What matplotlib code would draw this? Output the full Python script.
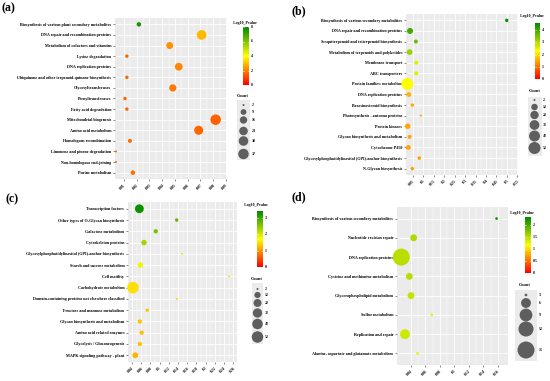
import numpy as np
import matplotlib
matplotlib.use("Agg")
import matplotlib.pyplot as plt
from matplotlib.colors import LinearSegmentedColormap

W, H = 550, 381
DPI = 100
FONT = "Liberation Serif"

# ---------------- data ----------------
a_terms = ["Biosynthesis of various plant secondary metabolites", "DNA repair and recombination proteins",
           "Metabolism of cofactors and vitamins", "Lysine degradation", "DNA replication proteins",
           "Ubiquinone and other terpenoid-quinone biosynthesis", "Glycosyltransferases", "Prenyltransferases",
           "Fatty acid degradation", "Mitochondrial biogenesis", "Amino acid metabolism",
           "Homologous recombination", "Limonene and pinene degradation", "Non-homologous end-joining",
           "Purine metabolism"]
a_rich = [0.0217, 0.0709, 0.0459, 0.0123, 0.053, 0.0123, 0.0483, 0.0108, 0.0123, 0.0819, 0.0686,
          0.0147, 0.0037, 0.0037, 0.017]
a_logp = [7.6, 2.9, 2.3, 1.6, 2.1, 1.6, 1.9, 1.5, 1.6, 1.5, 1.6, 1.7, 1.5, 1.5, 1.7]
a_count = [5, 30, 14, 3, 18, 3, 15, 3, 3, 37, 26, 4, 2, 2, 5]
a_xticks = [0.01, 0.02, 0.03, 0.04, 0.05, 0.06, 0.07, 0.08, 0.09]
a_xlabels = ["0.01", "0.02", "0.03", "0.04", "0.05", "0.06", "0.07", "0.08", "0.09"]
a_cbar_ticks = [0, 2, 4, 6, 8]
a_count_breaks = [2, 9, 16, 23, 30, 37]

b_terms = ["Biosynthesis of various secondary metabolites", "DNA repair and recombination proteins",
           "Sesquiterpenoid and triterpenoid biosynthesis", "Metabolism of terpenoids and polyketides",
           "Membrane transport", "ABC transporters", "Protein families: metabolism", "DNA replication proteins",
           "Brassinosteroid biosynthesis", "Photosynthesis - antenna proteins", "Protein kinases",
           "Glycan biosynthesis and metabolism", "Cytochrome P450",
           "Glycosylphosphatidylinositol (GPI)-anchor biosynthesis", "N-Glycan biosynthesis"]
b_rich = [0.499, 0.036, 0.064, 0.034, 0.066, 0.066, 0.023, 0.030, 0.047, 0.088, 0.025, 0.034, 0.028,
          0.080, 0.047]
b_logp = [4.5, 4.0, 3.6, 3.2, 2.6, 2.6, 2.3, 1.6, 1.5, 1.4, 1.5, 1.5, 1.5, 1.4, 1.4]
b_count = [3, 10, 4, 9, 4, 4, 52, 6, 3, 2, 8, 4, 6, 3, 3]
b_xticks = [0.05, 0.1, 0.15, 0.2, 0.25, 0.3, 0.35, 0.4, 0.45, 0.5, 0.55]
b_xlabels = ["0.05", "0.1", "0.15", "0.2", "0.25", "0.3", "0.35", "0.4", "0.45", "0.5", "0.55"]
b_cbar_ticks = [0, 1, 2, 3, 4]
b_count_breaks = [2, 12, 22, 32, 42, 52]

c_terms = ["Transcription factors", "Other types of O-Glycan biosynthesis", "Galactose metabolism",
           "Cytoskeleton proteins", "Glycosylphosphatidylinositol (GPI)-anchor biosynthesis",
           "Starch and sucrose metabolism", "Cell motility", "Carbohydrate metabolism",
           "Domain-containing proteins not elsewhere classified", "Fructose and mannose metabolism",
           "Glycan biosynthesis and metabolism", "Amino acid related enzymes", "Glycolysis / Gluconeogenesis",
           "MAPK signaling pathway - plant"]
c_rich = [0.056, 0.137, 0.0915, 0.066, 0.149, 0.058, 0.251, 0.042, 0.137, 0.073, 0.057, 0.061, 0.057, 0.047]
c_logp = [3.3, 2.8, 2.6, 2.3, 1.9, 1.8, 1.5, 1.5, 1.45, 1.3, 1.3, 1.3, 1.3, 1.2]
c_count = [28, 3, 5, 9, 2, 9, 2, 52, 2, 3, 5, 5, 5, 10]
c_xticks = [0.04, 0.06, 0.08, 0.1, 0.12, 0.14, 0.16, 0.18, 0.2, 0.22, 0.24, 0.26]
c_xlabels = ["0.04", "0.06", "0.08", "0.1", "0.12", "0.14", "0.16", "0.18", "0.2", "0.22", "0.24", "0.26"]
c_cbar_ticks = [0, 1, 2, 3]
c_count_breaks = [2, 12, 22, 32, 42, 52]

d_terms = ["Biosynthesis of various secondary metabolites", "Nucleotide excision repair",
           "DNA replication proteins", "Cysteine and methionine metabolism", "Glycerophospholipid metabolism",
           "Sulfur metabolism", "Replication and repair", "Alanine, aspartate and glutamate metabolism"]
d_rich = [0.158, 0.0437, 0.0266, 0.0377, 0.040, 0.0686, 0.0317, 0.049]
d_logp = [2.3, 1.55, 1.5, 1.5, 1.45, 1.3, 1.4, 1.3]
d_count = [3, 4, 15, 4, 4, 3, 6, 3]
d_xticks = [0.04, 0.06, 0.08, 0.1, 0.12, 0.14, 0.16]
d_xlabels = ["0.04", "0.06", "0.08", "0.1", "0.12", "0.14", "0.16"]
d_cbar_ticks = [0, 0.5, 1, 1.5, 2]
d_cbar_labels = ["0", "0.5", "1", "1.5", "2"]
d_count_breaks = [3, 6, 9, 12, 15]

# ---------------- styling / layout ----------------
cmap = LinearSegmentedColormap.from_list("ryg", ["#FF0000", "#FFFF00", "#008B00"])

fig = plt.figure(figsize=(W / DPI, H / DPI), dpi=DPI)
fig.patch.set_facecolor("white")


def px_rect(x0, x1, y0, y1):
    return [x0 / W, 1 - y1 / H, (x1 - x0) / W, (y1 - y0) / H]


def diam_fn(cmin, cmax, d0, d1):
    def f(c):
        c = np.asarray(c, dtype=float)
        return d0 + (d1 - d0) * np.sqrt(np.clip((c - cmin) / (cmax - cmin), 0, None))
    return f


def s_from_diam(d):
    return (np.asarray(d) * 72.0 / DPI) ** 2


ov = fig.add_axes([0, 0, 1, 1], zorder=5)
ov.set_xlim(0, W)
ov.set_ylim(H, 0)
ov.axis("off")
ov.patch.set_alpha(0)


def panel(rect, terms, rich, logp, count, xlim, xticks, xlabels, vmax, dfun,
          cbar_box, cbar_ticks, cbar_labels, cbar_title_xy,
          count_title_xy, count_box, count_x, count_ys, count_breaks, count_lab_x,
          letter, letter_xy):
    ax = fig.add_axes(px_rect(*rect))
    ax.set_facecolor("#EBEBEB")
    n = len(terms)
    ypos = np.arange(n)[::-1]
    cols = cmap(np.asarray(logp) / vmax)
    ax.scatter(rich, ypos, s=s_from_diam(dfun(count)), c=cols, edgecolors="none", zorder=3,
               clip_on=False)
    ax.set_xlim(*xlim)
    ax.set_ylim(-0.6, n - 0.4)
    ax.set_yticks(ypos)
    ax.set_yticklabels(terms, fontfamily=FONT, fontweight="bold", fontsize=3.0, color="black")
    ax.set_xticks(xticks)
    ax.set_xticklabels(xlabels, fontfamily=FONT, fontweight="bold", fontsize=2.8, color="black",
                       rotation=45, ha="right", rotation_mode="anchor")
    minor = [(xticks[i] + xticks[i + 1]) / 2 for i in range(len(xticks) - 1)]
    ax.set_xticks(minor, minor=True)
    ax.grid(True, which="major", color="white", linewidth=0.6, zorder=0)
    ax.grid(True, which="minor", axis="x", color="white", linewidth=0.3, zorder=0)
    ax.set_axisbelow(True)
    for sp in ax.spines.values():
        sp.set_visible(False)
    ax.tick_params(which="major", length=1.5, width=0.4, color="#333333", pad=1.2)
    ax.tick_params(which="minor", length=0)

    # colorbar
    x0, x1, y0, y1 = cbar_box
    grad = np.linspace(0, 1, 256).reshape(-1, 1)
    ov.imshow(grad, cmap=cmap, aspect="auto", origin="lower", extent=(x0, x1, y1, y0), zorder=6)
    for t, lab in zip(cbar_ticks, cbar_labels):
        yy = y1 - (y1 - y0) * t / vmax
        ov.plot([x0, x0 + 1.2], [yy, yy], color="white", lw=0.4, zorder=7)
        ov.plot([x1 - 1.2, x1], [yy, yy], color="white", lw=0.4, zorder=7)
        ov.text(x1 + 1.5, yy, lab, fontfamily=FONT, fontweight="bold", fontsize=2.8,
                ha="left", va="center", zorder=7)
    ov.text(cbar_title_xy[0], cbar_title_xy[1], "-Log10_Pvalue", fontfamily=FONT, fontweight="bold",
            fontsize=2.8, ha="center", va="center", zorder=7)

    # count legend
    bx0, bx1, by0, by1 = count_box
    ov.add_patch(plt.Rectangle((bx0, by0), bx1 - bx0, by1 - by0, facecolor="#EBEBEB",
                               edgecolor="none", zorder=6))
    ov.scatter([count_x] * len(count_ys), count_ys, s=s_from_diam(dfun(count_breaks)),
               color="#5E5E5E", edgecolors="none", zorder=7)
    for yy, b in zip(count_ys, count_breaks):
        ov.text(count_lab_x, yy, str(b), fontfamily=FONT, fontweight="bold", fontsize=2.8,
                ha="left", va="center", zorder=7)
    ov.text(count_title_xy[0], count_title_xy[1], "Count", fontfamily=FONT, fontweight="bold",
            fontsize=3.2, ha="center", va="center", zorder=7)

    ov.text(letter_xy[0], letter_xy[1], letter, fontfamily=FONT, fontweight="bold", fontsize=8.5,
            ha="left", va="top", zorder=7)
    return ax


panel((115, 227, 18, 179), a_terms, a_rich, a_logp, a_count, (0.003, 0.0908), a_xticks, a_xlabels, 8.0,
      diam_fn(2, 37, 2.0, 10.5),
      (243, 249, 27, 85), a_cbar_ticks, [str(t) for t in a_cbar_ticks], (245, 23),
      (243, 96), (237, 250, 100, 160), 243.5, [105, 112, 120, 131, 141, 154], a_count_breaks, 251.5,
      "(a)", (2, 2))

panel((406, 518, 14, 175), b_terms, b_rich, b_logp, b_count, (0.0167, 0.553), b_xticks, b_xlabels, 4.6,
      diam_fn(2, 52, 2.0, 12.0),
      (535, 540, 23, 79), b_cbar_ticks, [str(t) for t in b_cbar_ticks], (532, 16),
      (535, 91), (528, 542, 97, 156), 534.5, [100, 107, 115, 125, 136, 148], b_count_breaks, 543,
      "(b)", (291, 5))

panel((128, 237, 202, 362), c_terms, c_rich, c_logp, c_count, (0.0313, 0.268), c_xticks, c_xlabels, 3.4,
      diam_fn(2, 52, 2.0, 11.5),
      (257, 263, 211, 267), c_cbar_ticks, [str(t) for t in c_cbar_ticks], (256, 205),
      (257, 279), (252, 263, 283, 344), 257.5, [289, 295, 303, 313, 324, 337], c_count_breaks, 265,
      "(c)", (6, 193))

panel((397, 508, 207, 365), d_terms, d_rich, d_logp, d_count, (0.0207, 0.1738), d_xticks, d_xlabels, 2.35,
      diam_fn(3, 15, 2.7, 17.0),
      (525, 531, 217, 273), d_cbar_ticks, d_cbar_labels, (522, 213),
      (525, 285), (515, 537, 290, 361), 526, [295, 303, 315, 329, 350], d_count_breaks, 539,
      "(d)", (291, 191))

fig.savefig("out.png", dpi=DPI, facecolor="white")
